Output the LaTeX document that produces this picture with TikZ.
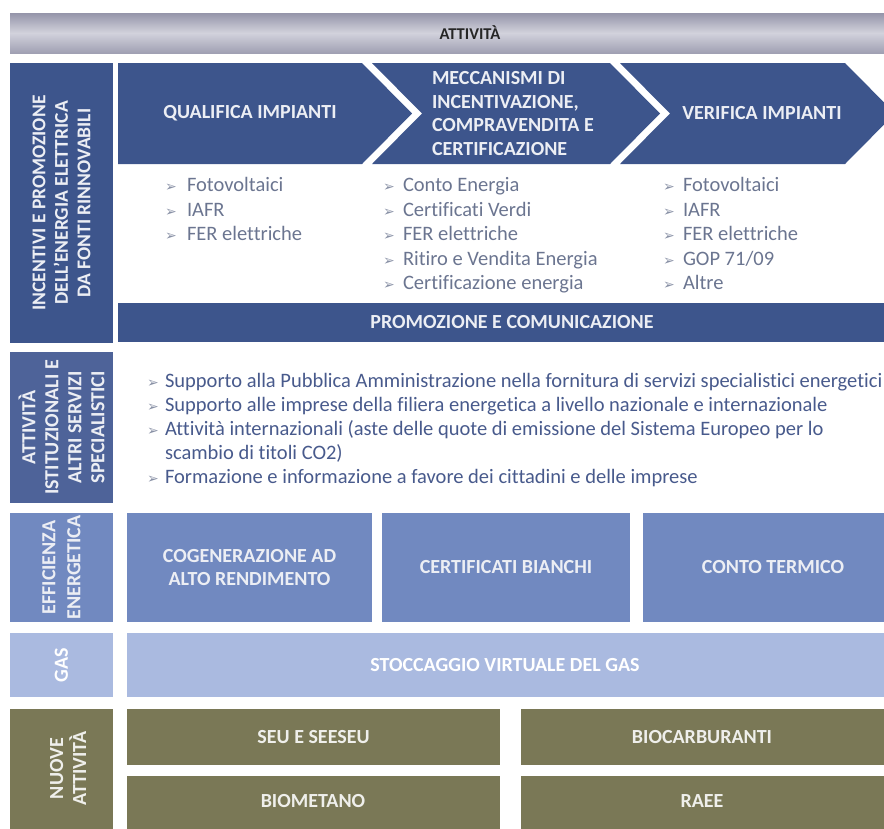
\documentclass[tikz,border=0pt]{standalone}
\usepackage{fontspec}
\setmainfont{Carlito}[Ligatures=NoCommon]
\newfontfamily\symfont{DejaVu Sans}
\usetikzlibrary{positioning}
\definecolor{navy}{HTML}{3D558C}
\definecolor{istblue}{HTML}{4E6399}
\definecolor{effblue}{HTML}{7189C0}
\definecolor{gasblue}{HTML}{AABAE0}
\definecolor{olive}{HTML}{7A7856}
\definecolor{itemgray}{HTML}{6B7590}
\definecolor{itemblue}{HTML}{485A8C}
\definecolor{bargray}{HTML}{9595AA}
\definecolor{barlight}{HTML}{D2D2DC}
\newcommand{\bul}[1][20pt]{\makebox[#1][l]{\symfont\fontsize{14}{14}\selectfont\color{itemgray!80}➢}}

\begin{document}
\begin{tikzpicture}[x=1pt,y=-1pt,
    every node/.append style={inner sep=0pt,outer sep=0pt},
    blk/.style={fill=#1,anchor=north west},
    side/.style={rotate=90,align=center,text=white!90!navy,
      font=\bfseries\fontsize{20}{23}\selectfont},
    hdr/.style={text=white!90!navy,align=center,font=\bfseries\fontsize{20}{23.5}\selectfont},
    item/.style={anchor=base west,text=itemgray,font=\fontsize{20.5}{24}\selectfont},
    iitem/.style={anchor=base west,text=itemblue,font=\fontsize{20.5}{24}\selectfont}]
    \useasboundingbox (0,0) rectangle (884,828);
    \clip (0,0) rectangle (884,828);
    % top band
    \node (attbar) [anchor=north west,minimum width=900pt,minimum height=40pt,
      top color=bargray,bottom color=bargray!90!white,middle color=barlight] at (10,13) {};
    \node (att) [font=\bfseries\fontsize{16.5}{18}\selectfont,text=black!85] at (470,33) {ATTIVITÀ};

    % incentivi
    \node (incbox) [blk=navy,minimum width=103pt,minimum height=280pt] at (10,63) {};
    \node (inc) [side,font=\bfseries\fontsize{19.5}{22.5}\selectfont] at (incbox.center)
      {INCENTIVI E PROMOZIONE\\DELL'ENERGIA ELETTRICA\\DA FONTI RINNOVABILI};
    \fill[navy] (118,63) -- (362,63) -- (412,113.5) -- (362,164) -- (118,164) -- cycle;
    \fill[navy] (372,63) -- (610,63) -- (660,113.5) -- (610,164) -- (372,164) -- (422,113.5) -- cycle;
    \fill[navy] (620,63) -- (845,63) -- (895,113.5) -- (845,164) -- (620,164) -- (670,113.5) -- cycle;
    \node (qual) [hdr] at (250,113.5) {QUALIFICA IMPIANTI};
    \node (mecc) [hdr,align=left,anchor=west] at (432,113.5)
      {MECCANISMI DI\\INCENTIVAZIONE,\\COMPRAVENDITA E\\CERTIFICAZIONE};
    \node (verif) [hdr] at (762,113.5) {VERIFICA IMPIANTI};
    \foreach \t [count=\i] in {Fotovoltaici,IAFR,FER elettriche}
      \node (qi\i) [item] at (165,191.5+24.5*\i-24.5) {\bul[22pt]\t};
    \foreach \t [count=\i] in {Conto Energia,Certificati Verdi,FER elettriche,
        Ritiro e Vendita Energia,Certificazione energia}
      \node (mi\i) [item] at (383,191.5+24.5*\i-24.5) {\bul\t};
    \foreach \t [count=\i] in {Fotovoltaici,IAFR,FER elettriche,GOP 71/09,Altre}
      \node (vi\i) [item] at (663,191.5+24.5*\i-24.5) {\bul\t};
    \node (promobar) [blk=navy,minimum width=780pt,minimum height=39pt] at (118,303) {};
    \node (promo) [hdr] at (512,322.5) {PROMOZIONE E COMUNICAZIONE};

    % istituzionali
    \node (istbox) [blk=istblue,minimum width=103pt,minimum height=151pt] at (10,352) {};
    \node (ist) [side] at (istbox.center)
      {ATTIVITÀ\\ISTITUZIONALI E\\ALTRI SERVIZI\\SPECIALISTICI};
    \node (is1) [iitem] at (147,387) {\bul[18pt]Supporto alla Pubblica Amministrazione nella fornitura di servizi specialistici energetici};
    \node (is2) [iitem] at (147,411) {\bul[18pt]Supporto alle imprese della filiera energetica a livello nazionale e internazionale};
    \node (is3) [iitem] at (147,435) {\bul[18pt]Attività internazionali (aste delle quote di emissione del Sistema Europeo per lo};
    \node (is4) [iitem] at (165,459) {scambio di titoli CO2)};
    \node (is5) [iitem] at (147,483) {\bul[18pt]Formazione e informazione a favore dei cittadini e delle imprese};

    % efficienza
    \node (effbox) [blk=effblue,minimum width=103pt,minimum height=109pt] at (10,513) {};
    \node (eff) [side,font=\bfseries\fontsize{20}{25}\selectfont] at (effbox.center) {EFFICIENZA\\ENERGETICA};
    \node (cog) [blk=effblue,minimum width=245pt,minimum height=109pt] at (127,513) {};
    \node (cert) [blk=effblue,minimum width=248pt,minimum height=109pt] at (382,513) {};
    \node (conto) [blk=effblue,minimum width=260pt,minimum height=109pt] at (643,513) {};
    \node [hdr] at (cog.center) {COGENERAZIONE AD\\ALTO RENDIMENTO};
    \node [hdr] at (cert.center) {CERTIFICATI BIANCHI};
    \node [hdr] at (conto.center) {CONTO TERMICO};

    % gas
    \node (gasbox) [blk=gasblue,minimum width=103pt,minimum height=64pt] at (10,633) {};
    \node (gas) [side,text=white] at (gasbox.center) {GAS};
    \node (stocc) [blk=gasblue,minimum width=770pt,minimum height=64pt] at (127,633) {};
    \node [hdr,text=white] at (505,665) {STOCCAGGIO VIRTUALE DEL GAS};

    % nuove attivita
    \node (nuobox) [blk=olive,minimum width=103pt,minimum height=130pt] at (10,709) {};
    \node (nuo) [side,text=white!88!olive] at (10+58,768.5) {NUOVE\\ATTIVITÀ};
    \node (seu) [blk=olive,minimum width=373pt,minimum height=56pt] at (127,709) {};
    \node (biom) [blk=olive,minimum width=373pt,minimum height=60pt] at (127,776) {};
    \node (bioc) [blk=olive,minimum width=380pt,minimum height=56pt] at (521,709) {};
    \node (raee) [blk=olive,minimum width=380pt,minimum height=60pt] at (521,776) {};
    \node [hdr,text=white!88!olive] at (seu.center) {SEU E SEESEU};
    \node [hdr,text=white!88!olive] at (313,801) {BIOMETANO};
    \node [hdr,text=white!88!olive] at (702,737) {BIOCARBURANTI};
    \node [hdr,text=white!88!olive] at (702,801) {RAEE};
\end{tikzpicture}
\end{document}
